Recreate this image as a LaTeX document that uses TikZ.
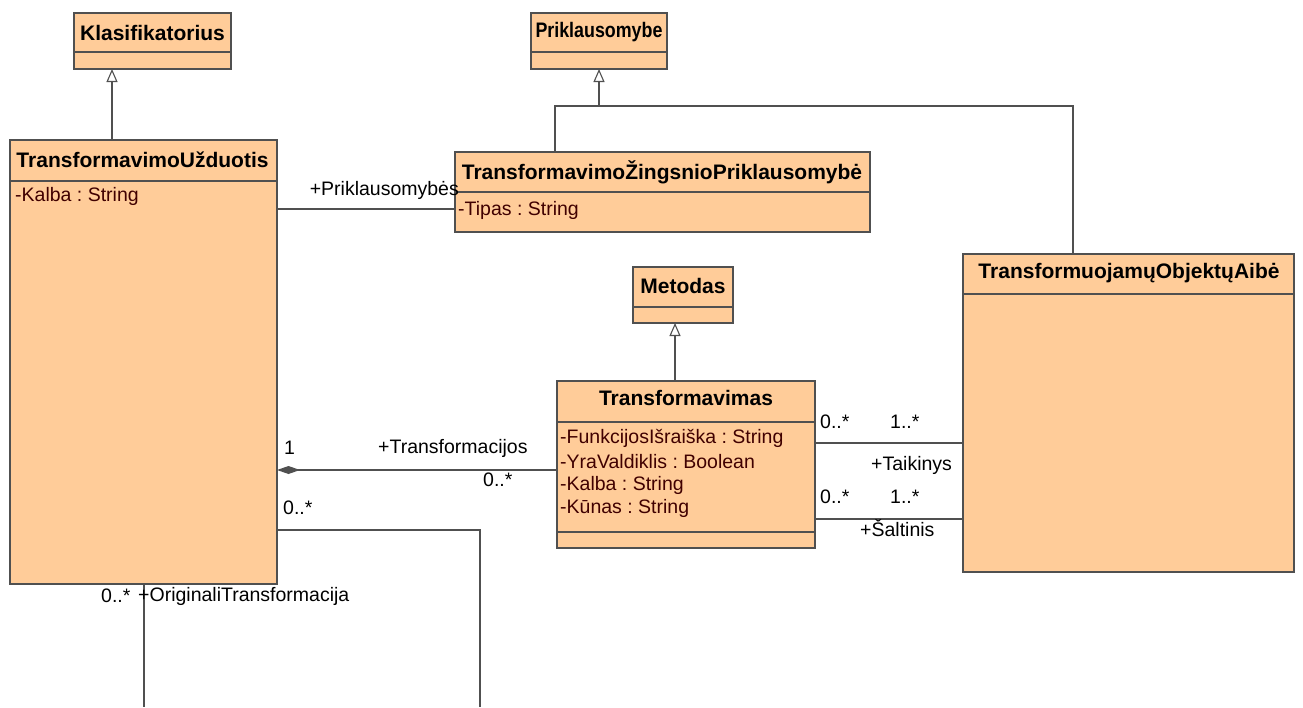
\documentclass[tikz,border=0pt]{standalone}
\usepackage{fontspec}
\setmainfont{Liberation Sans}
\usetikzlibrary{arrows.meta,calc}
\frenchspacing

\definecolor{clsfill}{RGB}{255,204,153}
\definecolor{clsline}{RGB}{80,80,80}
\definecolor{attrtext}{RGB}{64,0,0}

\tikzset{
  cls/.style={draw=clsline, fill=clsfill, line width=1.3pt, inner sep=0pt, outer sep=0pt, rectangle},
  conn/.style={draw=clsline, line width=1.3pt},
  gen/.style={conn, -{Triangle[length=13pt, width=11pt, fill=white, line width=1.1pt]}},
  comp/.style={conn, -{Diamond[length=23pt, width=8pt, fill=clsline]}},
  ttl/.style={inner sep=0pt, font=\fontsize{21}{25}\selectfont\bfseries},
  attr/.style={inner sep=0pt, anchor=west, text=attrtext, font=\fontsize{19.5}{23}\selectfont},
  lbl/.style={inner sep=0pt, anchor=west, font=\fontsize{19.5}{23}\selectfont},
}

\begin{document}
\begin{tikzpicture}[x=1pt, y=-1pt]
  \useasboundingbox (0,0) rectangle (1303,707);

  % class boxes
  \node[cls, minimum width=157, minimum height=56] (klas) at (152.5,41) {};
  \node[cls, minimum width=136, minimum height=56] (prik) at (599,41) {};
  \node[cls, minimum width=267, minimum height=444] (tu) at (143.5,362) {};
  \node[cls, minimum width=415, minimum height=80] (tzp) at (662.5,192) {};
  \node[cls, minimum width=100, minimum height=56] (met) at (683,295) {};
  \node[cls, minimum width=258, minimum height=167] (trans) at (686,464.5) {};
  \node[cls, minimum width=331, minimum height=318] (toa) at (1128.5,413) {};

  % compartment dividers
  \draw[conn] (klas.west |- 0,52) -- (klas.east |- 0,52);
  \draw[conn] (prik.west |- 0,52) -- (prik.east |- 0,52);
  \draw[conn] (tu.west |- 0,181) -- (tu.east |- 0,181);
  \draw[conn] (tzp.west |- 0,192) -- (tzp.east |- 0,192);
  \draw[conn] (met.west |- 0,307) -- (met.east |- 0,307);
  \draw[conn] (trans.west |- 0,422) -- (trans.east |- 0,422);
  \draw[conn] (trans.west |- 0,532) -- (trans.east |- 0,532);
  \draw[conn] (toa.west |- 0,294) -- (toa.east |- 0,294);

  % class names
  \node[ttl] (klasT) at (152.5,32.5) {Klasifikatorius};
  \node[ttl] (prikT) at (599,32.5) {\scalebox{0.85}[1]{Priklausomybe}};
  \node[ttl] (tuT) at (142.5,160) {TransformavimoUžduotis};
  \node[ttl] (tzpT) at (662,172) {TransformavimoŽingsnioPriklausomybė};
  \node[ttl] (metT) at (683,286) {Metodas};
  \node[ttl] (transT) at (686,398) {Transformavimas};
  \node[ttl] (toaT) at (1129,273) {TransformuojamųObjektųAibė};

  % attributes
  \node[attr] (tuA1) at (15,196) {-Kalba : String};
  \node[attr] (tzpA1) at (458,210) {-Tipas : String};
  \node[attr] (trA1) at (560,438) {-FunkcijosIšraiška : String};
  \node[attr] (trA2) at (560,461.5) {-YraValdiklis : Boolean};
  \node[attr] (trA3) at (560,485) {-Kalba : String};
  \node[attr] (trA4) at (560,508.5) {-Kūnas : String};

  % generalizations
  \coordinate (gk) at (112,0);
  \draw[gen] (tu.north -| gk) -- (klas.south -| gk);
  \coordinate (gp) at (555,0);
  \coordinate (gq) at (1073,0);
  \coordinate (gj) at (599,106);
  \draw[gen] (tzp.north -| gp) |- (gj) -- (prik.south);
  \draw[conn] (toa.north -| gq) |- (gj);
  \coordinate (gm) at (675,0);
  \draw[gen] (trans.north -| gm) -- (met.south -| gm);

  % associations
  \coordinate (ap) at (0,209);
  \draw[conn] (tu.east |- ap) -- (tzp.west |- ap);
  \coordinate (ac) at (0,470);
  \draw[comp] (trans.west |- ac) -- (tu.east |- ac);
  \coordinate (at) at (0,443);
  \draw[conn] (trans.east |- at) -- (toa.west |- at);
  \coordinate (as) at (0,519);
  \draw[conn] (trans.east |- as) -- (toa.west |- as);
  \coordinate (ar) at (0,530);
  \coordinate (selfA) at (480,707);
  \draw[conn] (tu.east |- ar) -| (selfA);
  \coordinate (selfB) at (144,707);
  \draw[conn] (tu.south -| selfB) -- (selfB);

  % association end labels
  \node[lbl, anchor=east] (lPr) at (459,190) {+Priklausomybės};
  \node[lbl] (lOne) at (284,448) {1};
  \node[lbl] (lTr) at (378,448) {+Transformacijos};
  \node[lbl] (lTrM) at (483,480) {0..*};
  \node[lbl] (lSelfM) at (283,508) {0..*};
  \node[lbl] (lOrM) at (101,596) {0..*};
  \node[lbl] (lOr) at (138,596) {+OriginaliTransformacija};
  \node[lbl] (lTaM1) at (820,422) {0..*};
  \node[lbl] (lTaM2) at (890,422) {1..*};
  \node[lbl] (lTa) at (871,465) {+Taikinys};
  \node[lbl] (lSaM1) at (820,497) {0..*};
  \node[lbl] (lSaM2) at (890,497) {1..*};
  \node[lbl] (lSa) at (860,528) {+Šaltinis};
\end{tikzpicture}
\end{document}
